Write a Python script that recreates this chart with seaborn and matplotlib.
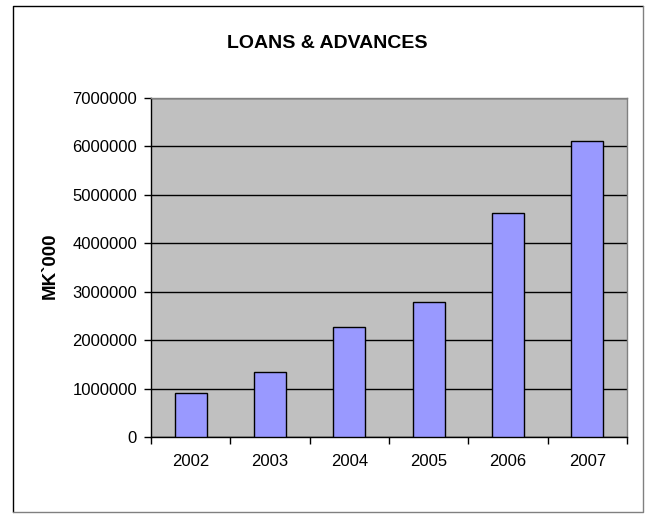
import pandas as pd
import numpy as np
import matplotlib
matplotlib.use("Agg")
import matplotlib.pyplot as plt
import seaborn as sns
from matplotlib.lines import Line2D

years = ['2002', '2003', '2004', '2005', '2006', '2007']
loans = [900000, 1335000, 2265000, 2780000, 4625000, 6105000]
y_ticks = [0, 1000000, 2000000, 3000000, 4000000, 5000000, 6000000, 7000000]

df = pd.DataFrame({'Year': years, 'Loans': loans})

sns.set_style('white')
plt.rcParams['font.family'] = ['Liberation Sans', 'DejaVu Sans']
plt.rcParams['text.color'] = 'black'
plt.rcParams['xtick.color'] = 'black'
plt.rcParams['ytick.color'] = 'black'

W, H = 645, 514
fig = plt.figure(figsize=(W / 100, H / 100), dpi=100)
ax = fig.add_axes([151 / W, 1 - 437 / H, 476 / W, 339 / H])
ax.set_facecolor('#C0C0C0')

sns.barplot(data=df, x='Year', y='Loans', color='#9999FF', edgecolor='black',
            linewidth=1, width=0.4, saturation=1, ax=ax, zorder=3)

ax.set_ylim(0, 7000000)
ax.set_xlim(-0.5, 5.5)
ax.set_yticks(y_ticks)
ax.set_yticklabels([str(v) for v in y_ticks], fontsize=12)
ax.yaxis.grid(True, color='black', linewidth=1)
ax.set_axisbelow(True)

ax.set_xticks(range(len(years)))
ax.set_xticklabels(years, fontsize=12)
ax.set_xticks(np.arange(-0.5, 6.0, 1), minor=True)
ax.tick_params(axis='x', which='major', length=0, pad=12)
ax.tick_params(axis='x', which='minor', length=5, width=1, color='black', direction='out', bottom=True)
ax.tick_params(axis='y', length=5, width=1, color='black', direction='out', left=True, pad=5)

for side in ['left', 'bottom']:
    ax.spines[side].set_color('black')
    ax.spines[side].set_linewidth(1)
for side in ['top', 'right']:
    ax.spines[side].set_color('#808080')
    ax.spines[side].set_linewidth(1)

ax.set_xlabel('')
ax.set_ylabel('')
fig.text(50 / W, 1 - 266 / H, 'MK`000', ha='center', va='center', rotation=90,
         fontsize=13.5, fontweight='bold')

fig.text(327 / W, 1 - 43.5 / H, 'LOANS & ADVANCES', ha='center', va='center',
         fontsize=14, fontweight='bold')

# chart border
l, r, t, b = 13 / W, 643 / W, 1 - 6 / H, 1 - 512 / H
fig.lines.append(Line2D([l, l, r], [b, t, t], transform=fig.transFigure, color='black', linewidth=1))
fig.lines.append(Line2D([l, r, r], [b, b, t], transform=fig.transFigure, color='#808080', linewidth=1))

fig.savefig('out.png', dpi=100)
